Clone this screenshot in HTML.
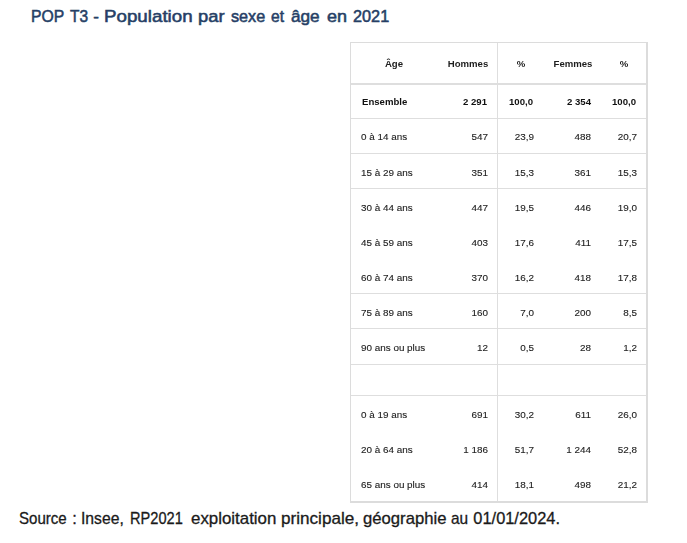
<!DOCTYPE html>
<html><head><meta charset="utf-8">
<style>
html,body{margin:0;padding:0;background:#fff;width:687px;height:543px;overflow:hidden;position:relative}
body{font-family:"Liberation Sans",sans-serif}
.t{will-change:transform}
.tw{position:absolute;top:7.61px;font-size:17px;line-height:1;white-space:nowrap;font-weight:normal;-webkit-text-stroke:0.55px #263f66;color:#263f66;transform-origin:0 0}
.sw{position:absolute;top:510.12px;font-size:16.4px;line-height:1;white-space:nowrap;color:#1a1a1a;-webkit-text-stroke:0.3px #1a1a1a;transform-origin:0 0}
.frame{position:absolute;left:350px;top:42px;width:298px;height:461px;box-sizing:border-box;border-left:1px solid #dcdcdc;border-top:1px solid #dcdcdc;border-right:2px solid #dcdcdc;border-bottom:2px solid #dcdcdc}
.hl{position:absolute;left:351px;width:295px;background:#dedede}
.vl{position:absolute;left:497px;top:43px;width:1px;height:458px;background:#dedede}
.t{position:absolute;line-height:1;white-space:nowrap;color:#222;-webkit-text-stroke:0.12px #222}
.t.r{width:200px;text-align:right}
.t.c{width:200px;text-align:center}
.b{font-weight:bold;color:#111;-webkit-text-stroke:0}
.h{font-weight:bold;color:#1e1e1e;-webkit-text-stroke:0}
</style></head><body>
<span class="tw" style="left:31.02px;transform:scaleX(0.926)">POP</span>
<span class="tw" style="left:69.65px;transform:scaleX(0.910)">T3</span>
<span class="tw" style="left:93.15px;transform:scaleX(1.000)">-</span>
<span class="tw" style="left:103.85px;transform:scaleX(1.103)">Population</span>
<span class="tw" style="left:198.17px;transform:scaleX(1.079)">par</span>
<span class="tw" style="left:231.25px;transform:scaleX(0.953)">sexe</span>
<span class="tw" style="left:271.35px;transform:scaleX(0.920)">et</span>
<span class="tw" style="left:291.25px;transform:scaleX(1.011)">âge</span>
<span class="tw" style="left:327.05px;transform:scaleX(1.061)">en</span>
<span class="tw" style="left:352.55px;transform:scaleX(0.957)">2021</span>
<div class="frame"></div>
<div class="hl" style="top:83px;height:2px"></div><div class="hl" style="top:118px;height:1px"></div><div class="hl" style="top:153px;height:1px"></div><div class="hl" style="top:188px;height:1px"></div><div class="hl" style="top:293px;height:1px"></div><div class="hl" style="top:328px;height:1px"></div><div class="hl" style="top:364px;height:1px"></div><div class="hl" style="top:395px;height:1px"></div>
<div class="vl"></div>
<div class="t h c" style="left:294.0px;top:58.87px;font-size:9.6px">Âge</div>
<div class="t h c" style="left:368.0px;top:58.87px;font-size:9.6px">Hommes</div>
<div class="t h c" style="left:421.0px;top:58.87px;font-size:9.6px">%</div>
<div class="t h c" style="left:472.5px;top:58.87px;font-size:9.6px">Femmes</div>
<div class="t h c" style="left:523.7px;top:58.87px;font-size:9.6px">%</div>
<div class="t b" style="left:361.5px;top:96.87px;font-size:9.6px;transform:scaleX(1);transform-origin:0 0">Ensemble</div>
<div class="t b r" style="left:286.9px;top:96.87px;font-size:9.6px;transform:scaleX(1);transform-origin:100% 0">2 291</div>
<div class="t b r" style="left:332.7px;top:96.87px;font-size:9.6px;transform:scaleX(1);transform-origin:100% 0">100,0</div>
<div class="t b r" style="left:390.5px;top:96.87px;font-size:9.6px;transform:scaleX(1);transform-origin:100% 0">2 354</div>
<div class="t b r" style="left:436.2px;top:96.87px;font-size:9.6px;transform:scaleX(1);transform-origin:100% 0">100,0</div>
<div class="t n" style="left:361.0px;top:131.62px;font-size:9.9px;transform:scaleX(1);transform-origin:0 0">0 à 14 ans</div>
<div class="t n r" style="left:287.7px;top:131.62px;font-size:9.9px;transform:scaleX(1);transform-origin:100% 0">547</div>
<div class="t n r" style="left:333.5px;top:131.62px;font-size:9.9px;transform:scaleX(1);transform-origin:100% 0">23,9</div>
<div class="t n r" style="left:391.3px;top:131.62px;font-size:9.9px;transform:scaleX(1);transform-origin:100% 0">488</div>
<div class="t n r" style="left:437.0px;top:131.62px;font-size:9.9px;transform:scaleX(1);transform-origin:100% 0">20,7</div>
<div class="t n" style="left:361.0px;top:167.62px;font-size:9.9px;transform:scaleX(1);transform-origin:0 0">15 à 29 ans</div>
<div class="t n r" style="left:287.7px;top:167.62px;font-size:9.9px;transform:scaleX(1);transform-origin:100% 0">351</div>
<div class="t n r" style="left:333.5px;top:167.62px;font-size:9.9px;transform:scaleX(1);transform-origin:100% 0">15,3</div>
<div class="t n r" style="left:391.3px;top:167.62px;font-size:9.9px;transform:scaleX(1);transform-origin:100% 0">361</div>
<div class="t n r" style="left:437.0px;top:167.62px;font-size:9.9px;transform:scaleX(1);transform-origin:100% 0">15,3</div>
<div class="t n" style="left:361.0px;top:202.62px;font-size:9.9px;transform:scaleX(1);transform-origin:0 0">30 à 44 ans</div>
<div class="t n r" style="left:287.7px;top:202.62px;font-size:9.9px;transform:scaleX(1);transform-origin:100% 0">447</div>
<div class="t n r" style="left:333.5px;top:202.62px;font-size:9.9px;transform:scaleX(1);transform-origin:100% 0">19,5</div>
<div class="t n r" style="left:391.3px;top:202.62px;font-size:9.9px;transform:scaleX(1);transform-origin:100% 0">446</div>
<div class="t n r" style="left:437.0px;top:202.62px;font-size:9.9px;transform:scaleX(1);transform-origin:100% 0">19,0</div>
<div class="t n" style="left:361.0px;top:237.62px;font-size:9.9px;transform:scaleX(1);transform-origin:0 0">45 à 59 ans</div>
<div class="t n r" style="left:287.7px;top:237.62px;font-size:9.9px;transform:scaleX(1);transform-origin:100% 0">403</div>
<div class="t n r" style="left:333.5px;top:237.62px;font-size:9.9px;transform:scaleX(1);transform-origin:100% 0">17,6</div>
<div class="t n r" style="left:391.3px;top:237.62px;font-size:9.9px;transform:scaleX(1);transform-origin:100% 0">411</div>
<div class="t n r" style="left:437.0px;top:237.62px;font-size:9.9px;transform:scaleX(1);transform-origin:100% 0">17,5</div>
<div class="t n" style="left:361.0px;top:272.62px;font-size:9.9px;transform:scaleX(1);transform-origin:0 0">60 à 74 ans</div>
<div class="t n r" style="left:287.7px;top:272.62px;font-size:9.9px;transform:scaleX(1);transform-origin:100% 0">370</div>
<div class="t n r" style="left:333.5px;top:272.62px;font-size:9.9px;transform:scaleX(1);transform-origin:100% 0">16,2</div>
<div class="t n r" style="left:391.3px;top:272.62px;font-size:9.9px;transform:scaleX(1);transform-origin:100% 0">418</div>
<div class="t n r" style="left:437.0px;top:272.62px;font-size:9.9px;transform:scaleX(1);transform-origin:100% 0">17,8</div>
<div class="t n" style="left:361.0px;top:307.62px;font-size:9.9px;transform:scaleX(1);transform-origin:0 0">75 à 89 ans</div>
<div class="t n r" style="left:287.7px;top:307.62px;font-size:9.9px;transform:scaleX(1);transform-origin:100% 0">160</div>
<div class="t n r" style="left:333.5px;top:307.62px;font-size:9.9px;transform:scaleX(1);transform-origin:100% 0">7,0</div>
<div class="t n r" style="left:391.3px;top:307.62px;font-size:9.9px;transform:scaleX(1);transform-origin:100% 0">200</div>
<div class="t n r" style="left:437.0px;top:307.62px;font-size:9.9px;transform:scaleX(1);transform-origin:100% 0">8,5</div>
<div class="t n" style="left:361.0px;top:342.62px;font-size:9.9px;transform:scaleX(1);transform-origin:0 0">90 ans ou plus</div>
<div class="t n r" style="left:287.7px;top:342.62px;font-size:9.9px;transform:scaleX(1);transform-origin:100% 0">12</div>
<div class="t n r" style="left:333.5px;top:342.62px;font-size:9.9px;transform:scaleX(1);transform-origin:100% 0">0,5</div>
<div class="t n r" style="left:391.3px;top:342.62px;font-size:9.9px;transform:scaleX(1);transform-origin:100% 0">28</div>
<div class="t n r" style="left:437.0px;top:342.62px;font-size:9.9px;transform:scaleX(1);transform-origin:100% 0">1,2</div>
<div class="t n" style="left:361.0px;top:409.62px;font-size:9.9px;transform:scaleX(1);transform-origin:0 0">0 à 19 ans</div>
<div class="t n r" style="left:287.7px;top:409.62px;font-size:9.9px;transform:scaleX(1);transform-origin:100% 0">691</div>
<div class="t n r" style="left:333.5px;top:409.62px;font-size:9.9px;transform:scaleX(1);transform-origin:100% 0">30,2</div>
<div class="t n r" style="left:391.3px;top:409.62px;font-size:9.9px;transform:scaleX(1);transform-origin:100% 0">611</div>
<div class="t n r" style="left:437.0px;top:409.62px;font-size:9.9px;transform:scaleX(1);transform-origin:100% 0">26,0</div>
<div class="t n" style="left:361.0px;top:444.62px;font-size:9.9px;transform:scaleX(1);transform-origin:0 0">20 à 64 ans</div>
<div class="t n r" style="left:287.7px;top:444.62px;font-size:9.9px;transform:scaleX(1);transform-origin:100% 0">1 186</div>
<div class="t n r" style="left:333.5px;top:444.62px;font-size:9.9px;transform:scaleX(1);transform-origin:100% 0">51,7</div>
<div class="t n r" style="left:391.3px;top:444.62px;font-size:9.9px;transform:scaleX(1);transform-origin:100% 0">1 244</div>
<div class="t n r" style="left:437.0px;top:444.62px;font-size:9.9px;transform:scaleX(1);transform-origin:100% 0">52,8</div>
<div class="t n" style="left:361.0px;top:479.62px;font-size:9.9px;transform:scaleX(1);transform-origin:0 0">65 ans ou plus</div>
<div class="t n r" style="left:287.7px;top:479.62px;font-size:9.9px;transform:scaleX(1);transform-origin:100% 0">414</div>
<div class="t n r" style="left:333.5px;top:479.62px;font-size:9.9px;transform:scaleX(1);transform-origin:100% 0">18,1</div>
<div class="t n r" style="left:391.3px;top:479.62px;font-size:9.9px;transform:scaleX(1);transform-origin:100% 0">498</div>
<div class="t n r" style="left:437.0px;top:479.62px;font-size:9.9px;transform:scaleX(1);transform-origin:100% 0">21,2</div>
<span class="sw" style="left:18.75px;transform:scaleX(0.919)">Source</span>
<span class="sw" style="left:72.15px;transform:scaleX(1.000)">:</span>
<span class="sw" style="left:81.39px;transform:scaleX(0.958)">Insee,</span>
<span class="sw" style="left:129.96px;transform:scaleX(0.891)">RP2021</span>
<span class="sw" style="left:190.85px;transform:scaleX(1.029)">exploitation</span>
<span class="sw" style="left:281.31px;transform:scaleX(1.044)">principale,</span>
<span class="sw" style="left:363.15px;transform:scaleX(1.017)">géographie</span>
<span class="sw" style="left:451.25px;transform:scaleX(0.941)">au</span>
<span class="sw" style="left:473.35px;transform:scaleX(1.000)">01/01/2024.</span>
</body></html>
